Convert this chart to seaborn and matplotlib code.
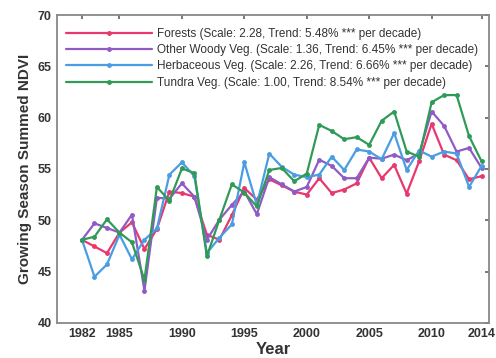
import matplotlib
matplotlib.use("Agg")
import matplotlib.pyplot as plt
import seaborn as sns
import pandas as pd

years = list(range(1982, 2015))
forests = [48.1, 47.45, 46.8, 48.8, 49.8, 47.2, 49.15, 52.8, 52.65, 52.3,
           48.6, 48.1, 50.5, 53.15, 52.0, 54.0, 53.4, 52.8, 52.5, 54.1,
           52.65, 53.0, 53.6, 56.1, 54.1, 55.4, 52.6, 55.75, 59.4, 56.4,
           55.85, 54.0, 54.3]
other_woody = [48.1, 49.7, 49.25, 48.8, 50.55, 43.15, 52.2, 52.1, 53.6, 52.3,
               48.1, 50.05, 51.5, 52.8, 50.6, 54.2, 53.5, 52.8, 53.25, 55.9,
               55.3, 54.1, 54.1, 56.1, 56.0, 56.4, 55.85, 56.5, 60.6, 59.2,
               56.7, 57.05, 55.1]
herbaceous = [48.1, 44.5, 45.7, 48.6, 46.2, 48.1, 49.2, 54.45, 55.65, 54.3,
              46.8, 48.3, 49.6, 55.65, 51.5, 56.5, 55.2, 54.45, 54.2, 54.45,
              56.2, 54.9, 56.9, 56.7, 55.95, 58.5, 54.9, 56.8, 56.2, 56.7,
              56.5, 53.25, 55.3]
tundra = [48.1, 48.4, 50.1, 48.8, 47.85, 44.2, 53.25, 51.9, 55.05, 54.6,
          46.5, 50.05, 53.5, 52.7, 51.35, 54.9, 55.1, 53.8, 54.55, 59.3,
          58.7, 57.9, 58.1, 57.35, 59.7, 60.6, 56.7, 56.2, 61.5, 62.2,
          62.2, 58.2, 55.75]

labels = ["Forests (Scale: 2.28, Trend: 5.48% *** per decade)",
          "Other Woody Veg. (Scale: 1.36, Trend: 6.45% *** per decade)",
          "Herbaceous Veg. (Scale: 2.26, Trend: 6.66% *** per decade)",
          "Tundra Veg. (Scale: 1.00, Trend: 8.54% *** per decade)"]
colors = ["#E8386D", "#8E5CC4", "#4A9DE2", "#2F9B57"]
xticks = [1982, 1985, 1990, 1995, 2000, 2005, 2010, 2014]
yticks = [40, 45, 50, 55, 60, 65, 70]

series = [forests, other_woody, herbaceous, tundra]
df = pd.concat([pd.DataFrame({"Year": years, "NDVI": s, "Type": lab})
                for s, lab in zip(series, labels)], ignore_index=True)

sns.set_theme(style="white")
plt.rcParams["font.family"] = ["Liberation Sans", "DejaVu Sans"]

fig = plt.figure(figsize=(4.96, 3.58), dpi=100)
ax = fig.add_axes([0.115, 0.098, 0.871, 0.860])

sns.lineplot(data=df, x="Year", y="NDVI", hue="Type", palette=colors,
             marker="o", markersize=3.5, markeredgewidth=0, linewidth=1.6,
             ax=ax, legend=True)

ax.set_xlim(1980, 2014.6)
ax.set_ylim(40, 70)
ax.set_xticks(xticks)
ax.set_yticks(yticks)
ax.tick_params(axis="both", which="both", direction="in", length=3,
               color="#666666", top=True, right=True, labelsize=9,
               labelcolor="#333333", pad=4)
for lab in ax.get_xticklabels() + ax.get_yticklabels():
    lab.set_fontweight("bold")
for sp in ax.spines.values():
    sp.set_color("#888888")
    sp.set_linewidth(1.3)

ax.set_xlabel("Year", fontsize=12, fontweight="bold", color="#333333", labelpad=1)
ax.set_ylabel("Growing Season Summed NDVI", fontsize=11, fontweight="bold",
              color="#333333", labelpad=4)

handles, labs = ax.get_legend_handles_labels()
leg = ax.legend(handles, labs, loc="upper left", bbox_to_anchor=(0.02, 0.958),
                frameon=False, fontsize=8.5, handlelength=7.3,
                handletextpad=0.45, labelspacing=0.36, borderpad=0,
                borderaxespad=0, numpoints=1)
for t in leg.get_texts():
    t.set_color("#333333")

fig.savefig("out.png", dpi=100, facecolor="white")
